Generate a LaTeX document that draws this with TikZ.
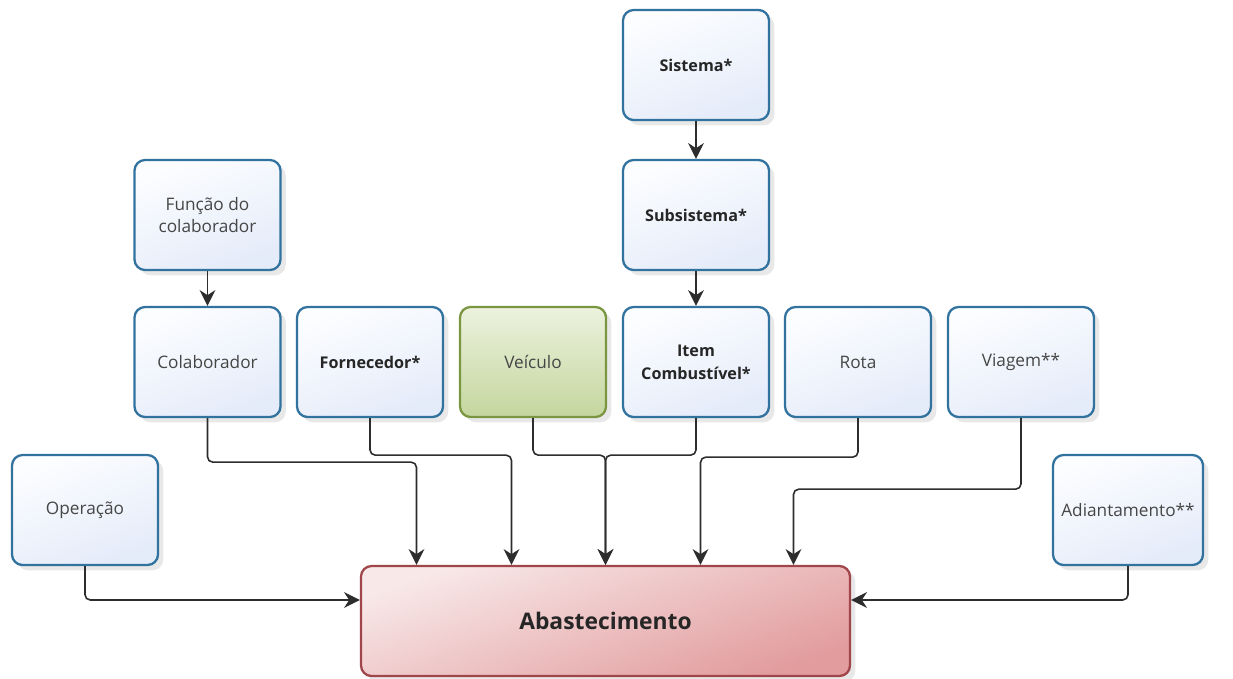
\documentclass[tikz,border=0pt]{standalone}
\usepackage{fontspec}
\setmainfont{Open Sans}
\setsansfont{Open Sans}
\usepackage{xcolor}
\usepackage{tikz}
\usetikzlibrary{arrows.meta, positioning, shadows}

\definecolor{entityborder}{RGB}{49,114,158}
\definecolor{entitytop}{RGB}{252,253,255}
\definecolor{entitybottom}{RGB}{228,235,249}
\definecolor{vehicleborder}{RGB}{122,150,64}
\definecolor{vehicletop}{RGB}{236,242,222}
\definecolor{vehiclebottom}{RGB}{196,214,158}
\definecolor{fuelborder}{RGB}{160,70,74}
\definecolor{fueltop}{RGB}{248,232,232}
\definecolor{fuelbottom}{RGB}{226,156,158}
\definecolor{linkgray}{RGB}{45,45,45}
\definecolor{textgray}{RGB}{70,70,70}

\begin{document}
\begin{tikzpicture}[
		% Define styles
		entity/.style={
			rectangle,
			draw=entityborder,
			line width=1.3pt,
			rounded corners=6pt,
			top color=entitytop,
			bottom color=entitybottom,
			shading angle=20,
			drop shadow={opacity=0.18, shadow xshift=3pt, shadow yshift=-3pt},
			font=\sffamily\fontsize{9.8}{13}\selectfont,
			text=textgray,
			align=center,
			minimum width=2.92cm,
			minimum height=2.2cm
		},
		key/.style={
			font=\sffamily\bfseries\fontsize{9.2}{13}\selectfont,
			text=black!85
		},
		vehicle/.style={
			entity,
			draw=vehicleborder,
			top color=vehicletop,
			bottom color=vehiclebottom
		},
		fuel/.style={
			rectangle,
			draw=fuelborder,
			line width=1.3pt,
			rounded corners=6pt,
			top color=fueltop,
			bottom color=fuelbottom,
			shading angle=20,
			drop shadow={opacity=0.18, shadow xshift=3pt, shadow yshift=-3pt},
			font=\sffamily\bfseries\fontsize{13}{16}\selectfont,
			text=black!85,
			minimum width=9.78cm,
			minimum height=2.2cm
		},
		% Define arrow style
		arrow/.style={-{Stealth[length=9pt,width=9pt]}, line width=0.9pt, draw=linkgray, rounded corners=3pt}
		]
		
		\useasboundingbox (0,0) rectangle (24.66,-13.56);
		
		% ----- Hierarchy on top -----
		\node[entity, key] (sistema) at (13.92,-1.30) {Sistema*};
		\node[entity, key] (subsistema) at (13.92,-4.30) {Subsistema*};
		\node[entity] (funcao) at (4.15,-4.30) {Função do\\colaborador};
		
		% ----- Entities row -----
		\node[entity] (colaborador) at (4.15,-7.24) {Colaborador};
		\node[entity, key] (fornecedor) at (7.40,-7.24) {Fornecedor*};
		\node[vehicle] (veiculo) at (10.66,-7.24) {Veículo};
		\node[entity, key] (item) at (13.92,-7.24) {Item\\Combustível*};
		\node[entity] (rota) at (17.16,-7.24) {Rota};
		\node[entity] (viagem) at (20.42,-7.24) {Viagem**};
		
		% ----- Side entities -----
		\node[entity] (operacao) at (1.70,-10.20) {Operação};
		\node[entity, minimum width=3.0cm] (adiantamento) at (22.56,-10.20) {Adiantamento**};
		
		% ----- Main entity -----
		\node[fuel] (abastecimento) at (12.11,-12.42) {Abastecimento};
		
		% ----- Entry points on Abastecimento -----
		\coordinate (in1) at ([xshift=-3.78cm]abastecimento.north);
		\coordinate (in2) at ([xshift=-1.88cm]abastecimento.north);
		\coordinate (in3) at (abastecimento.north);
		\coordinate (in4) at ([xshift=1.90cm]abastecimento.north);
		\coordinate (in5) at ([xshift=3.76cm]abastecimento.north);
		
		% ----- Arrows to connect the nodes -----
		\draw[arrow] (sistema) -- (subsistema);
		\draw[arrow] (subsistema) -- (item);
		\draw[arrow] (funcao) -- (colaborador);
		
		\draw[arrow] (colaborador.south) -- ++(0,-0.88) -| (in1);
		\draw[arrow] (fornecedor.south) -- ++(0,-0.74) -| (in2);
		\draw[arrow] (veiculo.south) -- ++(0,-0.74) -| (in3);
		\draw[arrow] (item.south) -- ++(0,-0.74) -| (in3);
		\draw[arrow] (rota.south) -- ++(0,-0.78) -| (in4);
		\draw[arrow] (viagem.south) -- ++(0,-1.42) -| (in5);
		
		\draw[arrow] (operacao.south) |- ([yshift=0.42cm]abastecimento.west);
		\draw[arrow] (adiantamento.south) |- ([yshift=0.42cm]abastecimento.east);
		
	\end{tikzpicture}
\end{document}
